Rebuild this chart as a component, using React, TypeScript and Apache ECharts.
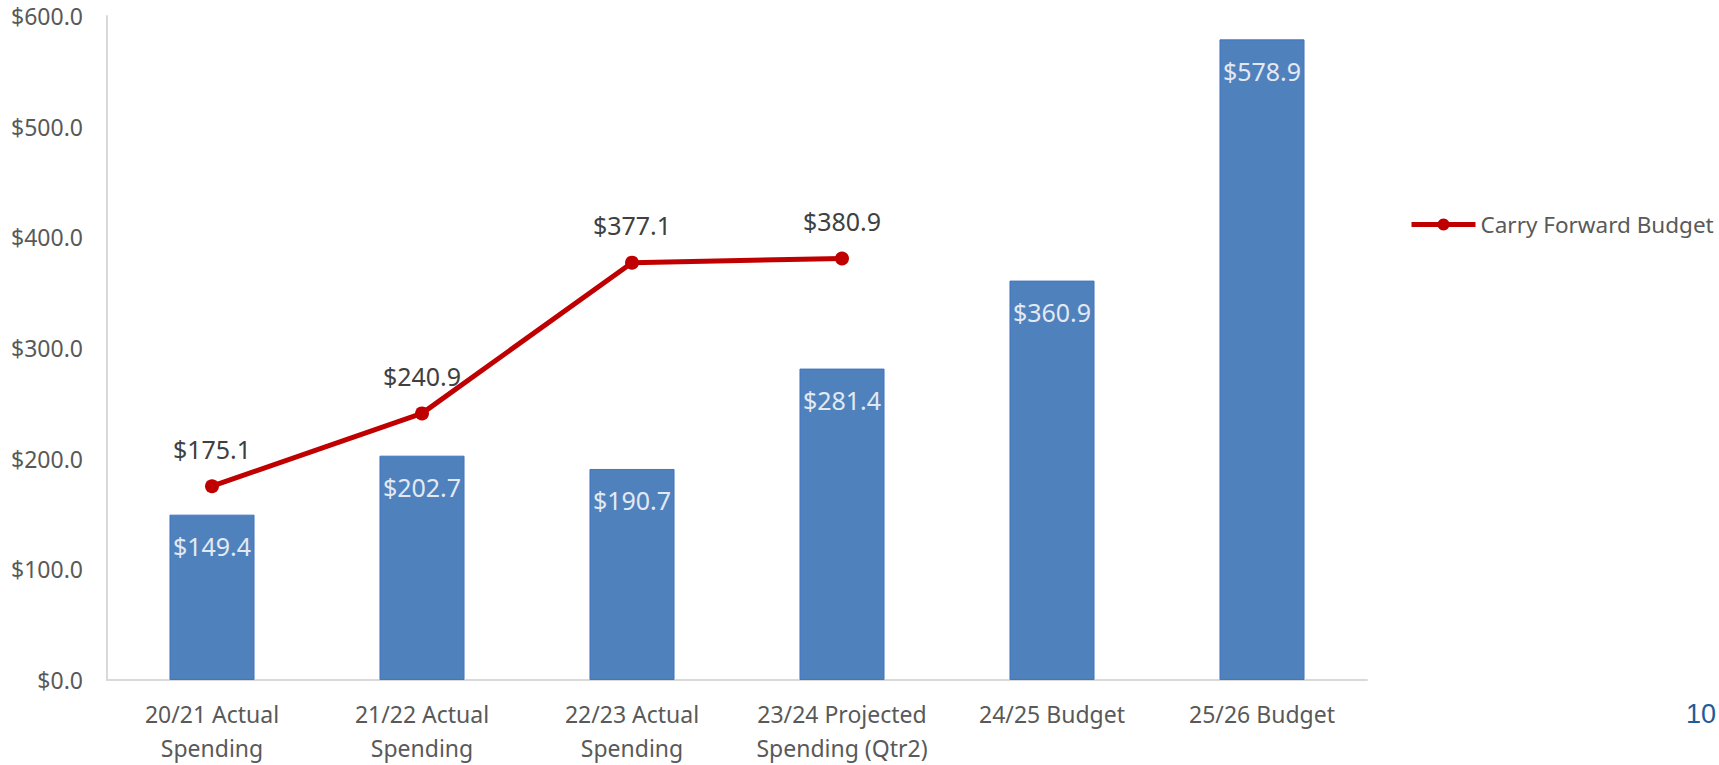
import React, { useEffect, useRef } from "react";
import * as echarts from "echarts";

const categories = [
  "20/21 Actual\nSpending",
  "21/22 Actual\nSpending",
  "22/23 Actual\nSpending",
  "23/24 Projected\nSpending (Qtr2)",
  "24/25 Budget",
  "25/26 Budget",
];
const spendingValues = [149.4, 202.7, 190.7, 281.4, 360.9, 578.9];
const carryForwardValues: (number | null)[] = [175.1, 240.9, 377.1, 380.9, null, null];
const yTicks = { min: 0, max: 600, interval: 100 };
const pageNumber = "10";

const FONT = "'Noto Sans', sans-serif";
const fmt = (v: number) => "$" + v.toFixed(1);

export default function App() {
  const ref = useRef<HTMLDivElement>(null);
  useEffect(() => {
    if (!ref.current) return;
    const chart = echarts.init(ref.current, null, { renderer: "svg" });
    chart.setOption({
      animation: false,
      backgroundColor: "#ffffff",
      textStyle: { fontFamily: FONT },
      grid: { left: 107, top: 16, right: 352, bottom: 83, containLabel: false },
      legend: {
        data: ["Carry Forward Budget"],
        left: 1409,
        top: 213,
        padding: 0,
        itemWidth: 64,
        itemHeight: 15,
        itemGap: 10,
        lineStyle: { width: 5, color: "#C00000" },
        itemStyle: { color: "#C00000" },
        textStyle: { color: "#595959", fontSize: 22.5, fontFamily: FONT, padding: [0, 0, 0, 0] },
      },
      xAxis: {
        type: "category",
        data: categories,
        axisLine: { show: true, lineStyle: { color: "#D9D9D9", width: 2 } },
        axisTick: { show: false },
        axisLabel: {
          color: "#595959",
          fontSize: 23,
          lineHeight: 34,
          margin: 17,
          fontFamily: FONT,
          interval: 0,
        },
        splitLine: { show: false },
      },
      yAxis: {
        type: "value",
        min: yTicks.min,
        max: yTicks.max,
        interval: yTicks.interval,
        axisLine: { show: true, lineStyle: { color: "#D9D9D9", width: 2 } },
        axisTick: { show: false },
        splitLine: { show: false },
        axisLabel: {
          color: "#595959",
          fontSize: 23,
          margin: 24,
          fontFamily: FONT,
          formatter: (v: number) => fmt(v),
        },
      },
      series: [
        {
          name: "Spending",
          type: "bar",
          data: spendingValues,
          barWidth: "40.5%",
          itemStyle: { color: "#4F81BD", borderColor: "#4472C4", borderWidth: 1 },
          label: {
            show: true,
            position: "insideTop",
            distance: 19,
            color: "#E3E9F2",
            fontSize: 25,
            fontFamily: FONT,
            formatter: (p: any) => fmt(p.value),
          },
          z: 1,
        },
        {
          name: "Carry Forward Budget",
          type: "line",
          data: carryForwardValues,
          symbol: "circle",
          symbolSize: 14,
          showAllSymbol: true,
          lineStyle: { color: "#C00000", width: 5 },
          itemStyle: { color: "#C00000" },
          label: {
            show: true,
            position: "top",
            distance: 18,
            color: "#404040",
            fontSize: 25,
            fontFamily: FONT,
            formatter: (p: any) => (p.value == null ? "" : fmt(p.value)),
          },
          z: 3,
        },
      ],
      graphic: [
        {
          type: "text",
          left: 1686,
          top: 700,
          style: {
            text: pageNumber,
            fill: "#1F5C99",
            fontSize: 27,
            fontFamily: "'Liberation Sans', Arial, sans-serif",
          },
        },
      ],
    });
    return () => chart.dispose();
  }, []);
  return (
    <div
      ref={ref}
      style={{ position: "fixed", left: 0, top: 0, width: 1719, height: 765, background: "#fff" }}
    />
  );
}
